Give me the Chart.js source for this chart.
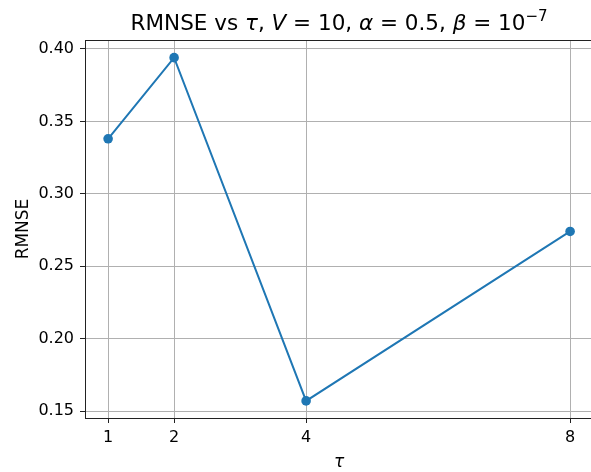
<!DOCTYPE html>
<html>
<head>
<meta charset="utf-8">
<script src="https://cdn.jsdelivr.net/npm/chart.js@4"></script>
<style>
  html, body { margin: 0; padding: 0; background: #fff; overflow: hidden; }
  #wrap { width: 598px; height: 472px; }
</style>
</head>
<body>
<div id="wrap"><canvas id="chart"></canvas></div>
<script>
const tauValues = [1, 2, 4, 8];
const rmnseValues = [0.338, 0.394, 0.157, 0.274];
const xTicks = [1, 2, 4, 8];
const yTicks = [0.15, 0.20, 0.25, 0.30, 0.35, 0.40];

const FONT = "'DejaVu Sans', sans-serif";

// matplotlib-like title with italic symbols, centred on the plot area
const titlePlugin = {
    id: 'mathTitle',
    afterDraw(chart) {
        const ctx = chart.ctx;
        const area = chart.chartArea;
        const size = 21.5;
        const parts = [
            ['RMNSE vs ', ''], ['τ', 'italic '], [', ', ''], ['V', 'italic '],
            [' = 10, ', ''], ['α', 'italic '], [' = 0.5, ', ''], ['β', 'italic '],
            [' = 10', ''], ['−7', 'sup']
        ];
        ctx.save();
        ctx.fillStyle = '#000';
        ctx.textBaseline = 'alphabetic';
        let total = 0;
        parts.forEach(p => {
            ctx.font = p[1] === 'sup' ? (size * 0.7) + 'px ' + FONT : p[1] + size + 'px ' + FONT;
            total += ctx.measureText(p[0]).width;
        });
        let x = (area.left + area.right) / 2 - total / 2;
        const y = 30;
        parts.forEach(p => {
            if (p[1] === 'sup') {
                ctx.font = (size * 0.7) + 'px ' + FONT;
                ctx.fillText(p[0], x, y - 9);
            } else {
                ctx.font = p[1] + size + 'px ' + FONT;
                ctx.fillText(p[0], x, y);
            }
            x += ctx.measureText(p[0]).width;
        });
        // top spine
        ctx.strokeStyle = '#222';
        ctx.lineWidth = 1;
        ctx.beginPath();
        ctx.moveTo(area.left, area.top + 0.5);
        ctx.lineTo(area.right, area.top + 0.5);
        ctx.stroke();
        ctx.restore();
    }
};

const chart = document.querySelector('#chart').getContext('2d');
new Chart(chart, {
    type: 'line',
    data: {
        datasets: [
            {
                data: tauValues.map((t, i) => ({ x: t, y: rmnseValues[i] })),
                borderColor: '#1f77b4',
                backgroundColor: '#1f77b4',
                borderWidth: 2,
                pointRadius: 4.8,
                pointHoverRadius: 4.8,
                pointBorderWidth: 0,
                tension: 0
            }
        ]
    },
    options: {
        responsive: true,
        maintainAspectRatio: false,
        animation: false,
        layout: { padding: { top: 40, left: 0, right: 0, bottom: 0 } },
        plugins: {
            legend: { display: false },
            tooltip: { enabled: false },
            title: { display: false }
        },
        scales: {
            x: {
                type: 'linear',
                min: 0.65,
                max: 8.35,
                afterBuildTicks: s => { s.ticks = xTicks.map(v => ({ value: v })); },
                afterFit: s => { s.height = 54; },
                ticks: {
                    color: '#000',
                    font: { family: FONT, size: 16 },
                    padding: 5,
                    maxRotation: 0,
                    callback: v => String(v)
                },
                grid: {
                    color: '#b0b0b0',
                    lineWidth: 1,
                    tickLength: 5,
                    tickColor: '#222'
                },
                border: { color: '#222', width: 1 },
                title: {
                    display: true,
                    text: 'τ',
                    color: '#000',
                    font: { family: FONT, size: 17, style: 'italic' },
                    padding: { top: 0, bottom: -1 }
                }
            },
            y: {
                min: 0.1452,
                max: 0.4062,
                afterBuildTicks: s => { s.ticks = yTicks.map(v => ({ value: v })); },
                afterFit: s => { s.width = 85; },
                ticks: {
                    color: '#000',
                    font: { family: FONT, size: 16 },
                    padding: 6,
                    callback: v => v.toFixed(2)
                },
                grid: {
                    color: '#b0b0b0',
                    lineWidth: 1,
                    tickLength: 5,
                    tickColor: '#222'
                },
                border: { color: '#222', width: 1 },
                title: {
                    display: true,
                    text: 'RMNSE',
                    color: '#000',
                    font: { family: FONT, size: 17 },
                    padding: { top: 13, bottom: 0 }
                }
            }
        }
    },
    plugins: [titlePlugin]
});
</script>
</body>
</html>
